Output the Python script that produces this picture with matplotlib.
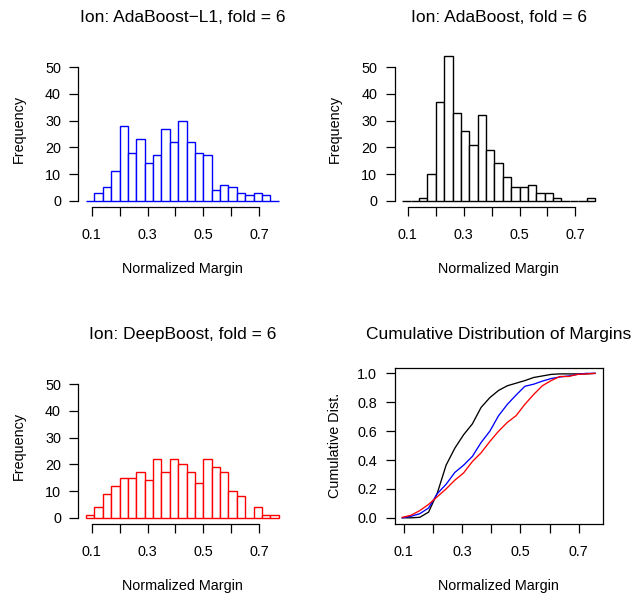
import numpy as np
import matplotlib
matplotlib.use("Agg")
import matplotlib.pyplot as plt

plt.rcParams['font.family'] = ['Liberation Sans', 'DejaVu Sans']

# histogram bins (23 bins of width 0.03 starting at 0.08)
bin_start = 0.08
bin_width = 0.03
n_bins = 23

# counts
counts_l1 = [0, 3, 5, 11, 28, 18, 23, 14, 17, 27, 22, 30, 22, 18, 17, 4, 6, 5, 3, 2, 3, 2, 0]
counts_ada = [0, 0, 1, 10, 37, 54, 33, 26, 21, 32, 19, 14, 9, 5, 5, 6, 3, 3, 1, 0, 0, 0, 1]
counts_deep = [1, 4, 9, 12, 15, 15, 17, 14, 22, 17, 22, 20, 17, 13, 22, 19, 17, 10, 8, 0, 4, 1, 1]

titles = ["Ion: AdaBoost\u2212L1, fold = 6", "Ion: AdaBoost, fold = 6",
          "Ion: DeepBoost, fold = 6", "Cumulative Distribution of Margins"]
x_ticks = [0.1, 0.2, 0.3, 0.4, 0.5, 0.6, 0.7]
x_ticklabels = ["0.1", "", "0.3", "", "0.5", "", "0.7"]
hist_yticks = [0, 10, 20, 30, 40, 50]
cdf_yticks = [0.0, 0.2, 0.4, 0.6, 0.8, 1.0]

edges = np.round(bin_start + bin_width * np.arange(n_bins + 1), 2)
mids = edges[:-1] + bin_width / 2

W, H = 635, 593
fig = plt.figure(figsize=(W / 100, H / 100), dpi=100)

# plot regions in pixels: left, top, width, height
boxes = [(78.4, 50.6), (394.6, 50.6), (78.4, 367.6), (394.6, 367.6)]
aw, ah = 208.0, 156.0
axes = [fig.add_axes([l / W, 1 - (t + ah) / H, aw / W, ah / H]) for l, t in boxes]

FS = 10.4
tick_len = 6.26
lw = 0.9


def style(ax, title, ylabel):
    ax.set_title(title, fontsize=12.5, pad=20.3)
    ax.set_xticks(x_ticks)
    ax.set_xticklabels(x_ticklabels)
    ax.tick_params(direction='out', length=tick_len, width=lw, labelsize=FS, color='black')
    ax.tick_params(axis='x', pad=9.0)
    ax.tick_params(axis='y', pad=6.3)
    for s in ax.spines.values():
        s.set_linewidth(lw)
    ax.set_xlabel("Normalized Margin", fontsize=FS)
    ax.xaxis.label.set_va('baseline')
    ax.xaxis.set_label_coords(0.5, -66.5 / ah)
    ax.set_ylabel(ylabel, fontsize=FS)
    ax.yaxis.label.set_va('baseline')
    ax.yaxis.set_label_coords(-55.7 / aw, 0.5)


hists = [(axes[0], counts_l1, 'blue', titles[0]),
         (axes[1], counts_ada, 'black', titles[1]),
         (axes[2], counts_deep, 'red', titles[2])]

for ax, cnt, col, ttl in hists:
    ax.bar(edges[:-1], cnt, width=bin_width, align='edge', facecolor='white',
           edgecolor=col, linewidth=1.0)
    ax.set_xlim(0.0524, 0.7976)
    ax.set_ylim(-2.16, 56.16)
    ax.set_yticks(hist_yticks)
    ax.set_yticklabels([str(v) for v in hist_yticks])
    ax.spines['top'].set_visible(False)
    ax.spines['right'].set_visible(False)
    ax.spines['left'].set_bounds(0, 50)
    ax.spines['bottom'].set_bounds(0.1, 0.7)
    style(ax, ttl, "Frequency")

# cumulative distribution
ax = axes[3]
for cnt, col in [(counts_ada, 'black'), (counts_l1, 'blue'), (counts_deep, 'red')]:
    c = np.cumsum(cnt) / np.sum(cnt)
    ax.plot(mids, c, color=col, linewidth=0.95)
ax.set_xlim(0.0686, 0.7814)
ax.set_ylim(-0.04, 1.04)
ax.set_yticks(cdf_yticks)
ax.set_yticklabels(["%.1f" % v for v in cdf_yticks])
style(ax, titles[3], "Cumulative Dist.")

fig.savefig("out.png", dpi=100)
